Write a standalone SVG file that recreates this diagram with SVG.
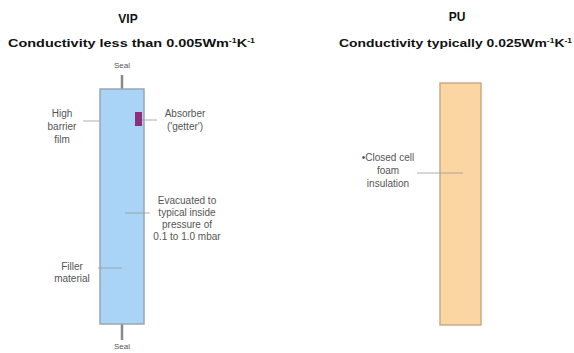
<svg xmlns="http://www.w3.org/2000/svg" width="574" height="353" viewBox="0 0 574 353">
<style>
.title{font-family:"Liberation Sans",Arial,sans-serif;font-weight:bold;font-size:12px;fill:#111;text-anchor:middle}
.sub{font-family:"Liberation Sans",Arial,sans-serif;font-weight:bold;font-size:11.5px;fill:#111}
.lbl{font-family:"Liberation Sans",Arial,sans-serif;font-size:10px;fill:#555;text-anchor:middle}
.seal{font-size:8px}
.lead{stroke:#999;stroke-width:0.8;fill:none}
.stub{stroke:#888;stroke-width:2.5}
</style>
<rect width="574" height="353" fill="#fff"/>
<g id="vip-title">
<text class="title" x="128" y="23">VIP</text>
<text class="sub" x="8" y="47" textLength="247" lengthAdjust="spacingAndGlyphs">Conductivity less than 0.005Wm<tspan dy="-4" font-size="7">-1</tspan><tspan dy="4">K</tspan><tspan dy="-4" font-size="7">-1</tspan></text>
</g>
<g id="pu-title">
<text class="title" x="457" y="21">PU</text>
<text class="sub" x="339" y="47" textLength="233" lengthAdjust="spacingAndGlyphs">Conductivity typically 0.025Wm<tspan dy="-4" font-size="7">-1</tspan><tspan dy="4">K</tspan><tspan dy="-4" font-size="7">-1</tspan></text>
</g>
<g id="vip-panel">
<line class="stub" x1="122" y1="75" x2="122" y2="89"/>
<line class="stub" x1="122" y1="324" x2="122" y2="340"/>
<rect x="100" y="89" width="44" height="235" fill="#a9d3f7" stroke="#9aa6b0" stroke-width="1.5"/>
</g>
<g id="absorber">
<rect x="135" y="112" width="7" height="14" fill="#8e2f7e"/>
</g>
<g id="pu-panel">
<rect x="440" y="83" width="41" height="242" fill="#fbd6a2" stroke="#c9ab86" stroke-width="1.5"/>
</g>
<g id="connectors">
<line class="lead" x1="83" y1="121" x2="99" y2="121"/>
<line class="lead" x1="142" y1="120" x2="157" y2="120"/>
<line class="lead" x1="125" y1="213" x2="150" y2="213"/>
<line class="lead" x1="98" y1="268" x2="122" y2="268"/>
<line class="lead" x1="417" y1="173" x2="463" y2="173"/>
</g>
<g id="labels">
<text class="lbl seal" x="122" y="68">Seal</text>
<text class="lbl seal" x="122" y="349">Seal</text>
<text class="lbl" x="62" y="117">High</text>
<text class="lbl" x="62" y="130">barrier</text>
<text class="lbl" x="62" y="143">film</text>
<text class="lbl" x="185" y="117">Absorber</text>
<text class="lbl" x="185" y="130">('getter')</text>
<text class="lbl" x="187" y="204">Evacuated to</text>
<text class="lbl" x="187" y="216">typical inside</text>
<text class="lbl" x="187" y="228">pressure of</text>
<text class="lbl" x="187" y="240">0.1 to 1.0 mbar</text>
<text class="lbl" x="72" y="270">Filler</text>
<text class="lbl" x="72" y="282">material</text>
<text class="lbl" x="388" y="161">•Closed cell</text>
<text class="lbl" x="388" y="174">foam</text>
<text class="lbl" x="388" y="187">insulation</text>
</g>
</svg>
